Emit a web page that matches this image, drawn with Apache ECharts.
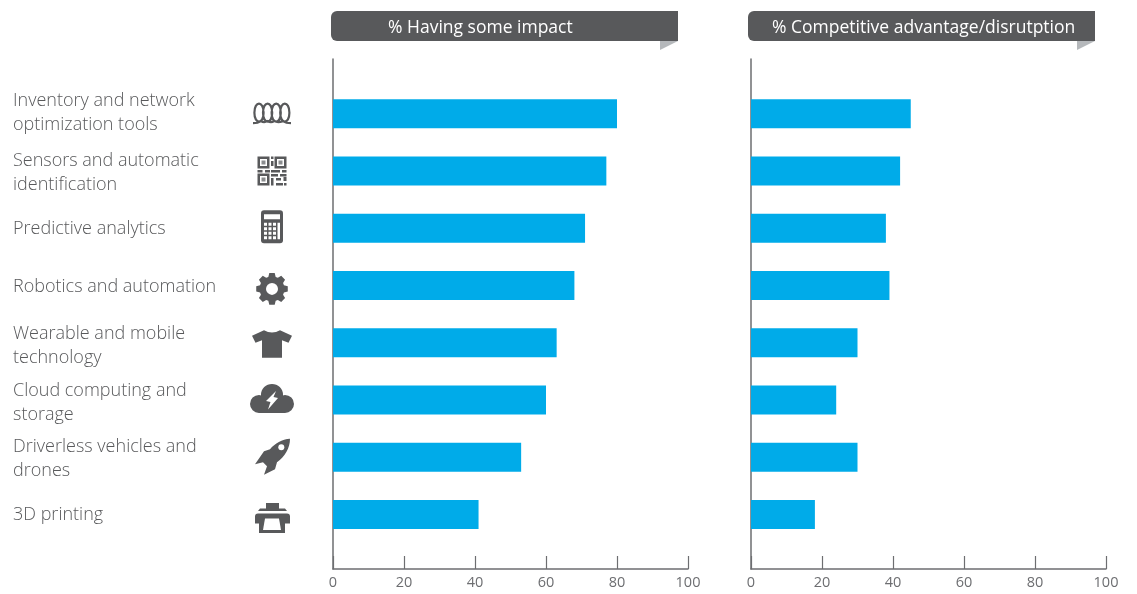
<!DOCTYPE html>
<html>
<head>
<meta charset="utf-8">
<style>html,body{margin:0;padding:0;background:#fff}#chart{width:1137px;height:594px}</style>
<script src="https://cdn.jsdelivr.net/npm/echarts@6/dist/echarts.min.js"></script>
</head>
<body>
<div id="chart"></div>
<script>
// Survey results by technology
const categories = [
  'Inventory and network\noptimization tools',
  'Sensors and automatic\nidentification',
  'Predictive analytics',
  'Robotics and automation',
  'Wearable and mobile\ntechnology',
  'Cloud computing and\nstorage',
  'Driverless vehicles and\ndrones',
  '3D printing'
];
const someImpact = [80, 77, 71, 68, 63, 60, 53, 41];
const competitiveAdvantage = [45, 42, 38, 39, 30, 24, 30, 18];
const panelTitles = ['% Having some impact', '% Competitive advantage/disrutption'];
const axisTicks = [0, 20, 40, 60, 80, 100];
// Row labels do not sit exactly on the bar centres
const labelNudge = [-1, 2, 1, 1, 3, 3, 2, 0];

const DARK = '#58595b';
const AXIS = '#6d6e71';
const BLUE = '#00abe9';
const FONT = '"Open Sans", "Noto Sans", sans-serif';

// Gear outline with eight teeth around the origin
function gearPath(cy, rOut, rIn) {
  let d = '';
  for (let i = 0; i < 8; i++) {
    const a = i * Math.PI / 4 - Math.PI / 2;
    const pts = [[-0.30, rIn], [-0.17, rOut], [0.17, rOut], [0.30, rIn]];
    pts.forEach(([da, r]) => {
      const x = (r * Math.cos(a + da)).toFixed(2), y = (cy + r * Math.sin(a + da)).toFixed(2);
      d += (d ? 'L' : 'M') + x + ' ' + y + ' ';
    });
  }
  return d + 'Z';
}
const circle = (cx, cy, r) => `M${cx - r} ${cy}A${r} ${r} 0 1 1 ${cx + r} ${cy}A${r} ${r} 0 1 1 ${cx - r} ${cy}Z`;
const oval = (cx, cy, rx, ry) => `M${cx - rx} ${cy}C${cx - rx} ${cy - ry * 1.33} ${cx + rx} ${cy - ry * 1.33} ${cx + rx} ${cy}C${cx + rx} ${cy + ry * 1.33} ${cx - rx} ${cy + ry * 1.33} ${cx - rx} ${cy}Z`;
const rect = (x, y, w, h) => `M${x} ${y}L${x + w} ${y}L${x + w} ${y + h}L${x} ${y + h}Z`;

// Icon parts in pixels around the centre of each row: [path, fill, stroke width]
const WHITE = '#ffffff';
const icons = [
  [[ oval(-13, -1, 4.6, 9) + oval(-4.4, -1, 4.6, 9) + oval(4.2, -1, 4.6, 9) + oval(12.8, -1, 4.6, 9) + 'M-19 9.5Q-14 9.5-11 7.5Q-8 9.5-4.4 7.5Q-1 9.5 2.2 7.5Q6 9.5 10.8 7.5Q14 9.5 19 9.5', null, 2.2 ]],
  [[ rect(-14.5, -14.5, 12, 12) + rect(2.5, -14.5, 12, 12) + rect(-14.5, 2.5, 12, 12) + rect(-1, -14.5, 2.5, 2.5) + rect(-1, -10, 2.5, 5) + rect(-14.5, -1, 5, 2.5) + rect(-7, -1, 5, 2.5) + rect(-1, -1, 9, 2.5) + rect(10, -1, 4.5, 2.5) + rect(-1, 3, 7, 2.5) + rect(8, 3, 6.5, 2.5) + rect(-1, 7, 2.5, 7.5) + rect(4, 7, 5, 2.5) + rect(11.5, 6, 3, 4) + rect(4, 12, 7, 2.5) + rect(12, 12, 2.5, 2.5), DARK ],
   [ rect(-12, -12, 7, 7) + rect(5, -12, 7, 7) + rect(-12, 5, 7, 7), WHITE ],
   [ rect(-10.5, -10.5, 4, 4) + rect(6.5, -10.5, 4, 4) + rect(-10.5, 6.5, 4, 4), '#8a8c8e' ]],
  [[ 'M-8-18L8-18Q11-18 11-15L11 12Q11 15 8 15L-8 15Q-11 15-11 12L-11-15Q-11-18-8-18Z', DARK ],
   [ rect(-8, -14, 16, 5) + rect(-8, -5.5, 3, 3) + rect(-3.5, -5.5, 3, 3) + rect(1, -5.5, 3, 3) + rect(-8, -1, 3, 3) + rect(-3.5, -1, 3, 3) + rect(1, -1, 3, 3) + rect(-8, 3.5, 3, 3) + rect(-3.5, 3.5, 3, 3) + rect(1, 3.5, 3, 3) + rect(-8, 8, 3, 3) + rect(-3.5, 8, 3, 3) + rect(1, 8, 3, 3) + rect(5.5, -5.5, 2.5, 16.5), WHITE ]],
  [[ gearPath(3.5, 16, 12.5), DARK ], [ circle(0, 3.5, 6), WHITE ]],
  [[ 'M-20-7L-8-12.5Q0-8 8-12.5L20-7L16.5 0L10-2.5L10 15L-10 15L-10-2.5L-16.5 0Z', DARK ]],
  [[ circle(-13, 4, 9) + circle(0, -5, 11) + circle(13, 4, 9) + rect(-13, 3, 26, 10), DARK ],
   [ 'M4-9L-6 1L-1.5 2L-4 9.5L6-2L1.5-3Z', WHITE ]],
  [[ 'M18-18.5C10-18 3-14-2-8L-8-6L-17 7L-9 5L-5 9L-8 17.5L3 12L5 5C13-1 18-9 18-18.5Z', DARK ],
   [ circle(9.3, -10, 3), WHITE ]],
  [[ rect(-6, -11.5, 13, 5.5) + 'M-12-6L13-6L15-3.5L-14-3.5Z' + 'M-14-1L15-1Q18-1 18 2L18 9L13 9L13 18.5L-13 18.5L-13 9L-17 9L-17 2Q-17-1-14-1Z', DARK ],
   [ 'M-7 4L7 4L9 15.5L-9 15.5Z', WHITE ]]
];

// Register every icon part as a shape so custom series can place it by data
icons.forEach((parts, i) => parts.forEach((p, j) => {
  echarts.graphic.registerShape(`icon${i}_${j}`, echarts.graphic.extendPath(p[0], {}));
}));

const panelLefts = [333, 751];
const panelWidth = 355;
const frameTop = 59, frameHeight = 510;
const rowsTop = 85, rowsHeight = 458;

const grids = [], xAxes = [], yAxes = [], series = [];
[someImpact, competitiveAdvantage].forEach((values, p) => {
  const left = panelLefts[p];
  // Frame: the full-height axis lines and the ticks
  grids.push({ left, width: panelWidth, top: frameTop, height: frameHeight });
  xAxes.push({
    gridIndex: grids.length - 1, type: 'value', min: axisTicks[0], max: axisTicks[axisTicks.length - 1], interval: 20,
    axisLine: { show: true, onZero: false, lineStyle: { color: AXIS, width: 1.5 } },
    axisTick: { show: true, inside: true, length: 13, lineStyle: { color: AXIS, width: 1.2 } },
    axisLabel: { color: AXIS, fontSize: 14.5, fontFamily: FONT, margin: 6 },
    splitLine: { show: false }
  });
  yAxes.push({
    gridIndex: grids.length - 1, type: 'value', min: 0, max: 1,
    axisLine: { show: true, lineStyle: { color: AXIS, width: 1.5 } },
    axisTick: { show: false }, axisLabel: { show: false }, splitLine: { show: false }
  });
  // Rows: the bars
  grids.push({ left, width: panelWidth, top: rowsTop, height: rowsHeight });
  xAxes.push({ gridIndex: grids.length - 1, type: 'value', min: 0, max: 100, show: false });
  yAxes.push({
    gridIndex: grids.length - 1, type: 'category', inverse: true, data: categories,
    axisLine: { show: false }, axisTick: { show: false }, axisLabel: { show: false }
  });
  series.push({
    type: 'bar', xAxisIndex: xAxes.length - 1, yAxisIndex: yAxes.length - 1,
    data: values, barWidth: 29, itemStyle: { color: BLUE }, silent: true
  });
});

// Label and icon column, aligned to the same rows as the bars
const LABEL_LEFT = 13;
grids.push({ left: 250, width: 44, top: rowsTop, height: rowsHeight });
xAxes.push({ gridIndex: grids.length - 1, type: 'value', min: 0, max: 1, show: false });
yAxes.push({ gridIndex: grids.length - 1, type: 'category', inverse: true, data: categories, show: false });
series.push({
  type: 'custom', xAxisIndex: xAxes.length - 1, yAxisIndex: yAxes.length - 1, silent: true, clip: false,
  data: categories.map((c, i) => [0.5, i]),
  encode: { x: 0, y: 1 },
  renderItem(params, api) {
    const i = params.dataIndex;
    const pos = api.coord([api.value(0), api.value(1)]);
    const children = icons[i].map((part, j) => ({
      type: `icon${i}_${j}`,
      style: part[1]
        ? { fill: part[1], stroke: null }
        : { fill: null, stroke: DARK, lineWidth: part[2] }
    }));
    children.push({
      type: 'text', x: LABEL_LEFT - pos[0], y: labelNudge[i],
      style: {
        text: categories[i], fill: DARK, font: `300 18px ${FONT}`, lineHeight: 24,
        align: 'left', verticalAlign: 'middle'
      }
    });
    return { type: 'group', x: pos[0], y: pos[1], children };
  }
});

// Flag-shaped panel headers
const graphic = [];
const flagLefts = [331, 748], flagWidth = 347, flagTextX = [388, 772];
panelTitles.forEach((title, i) => {
  const x = flagLefts[i];
  graphic.push(
    { type: 'polygon', shape: { points: [[x + flagWidth - 18, 41], [x + flagWidth, 41], [x + flagWidth - 18, 50]] }, style: { fill: '#b5b8bb' } },
    { type: 'rect', shape: { x, y: 11, width: flagWidth, height: 30, r: [6, 0, 0, 6] }, style: { fill: DARK } },
    { type: 'text', x: flagTextX[i], y: 28.5, style: { text: title, fill: '#ffffff', font: `400 17.5px ${FONT}`, verticalAlign: 'middle' } }
  );
});

const chart = echarts.init(document.getElementById('chart'), null, { renderer: 'canvas' });
chart.setOption({
  animation: false,
  backgroundColor: '#ffffff',
  grid: grids, xAxis: xAxes, yAxis: yAxes, series, graphic
});
</script>
</body>
</html>
